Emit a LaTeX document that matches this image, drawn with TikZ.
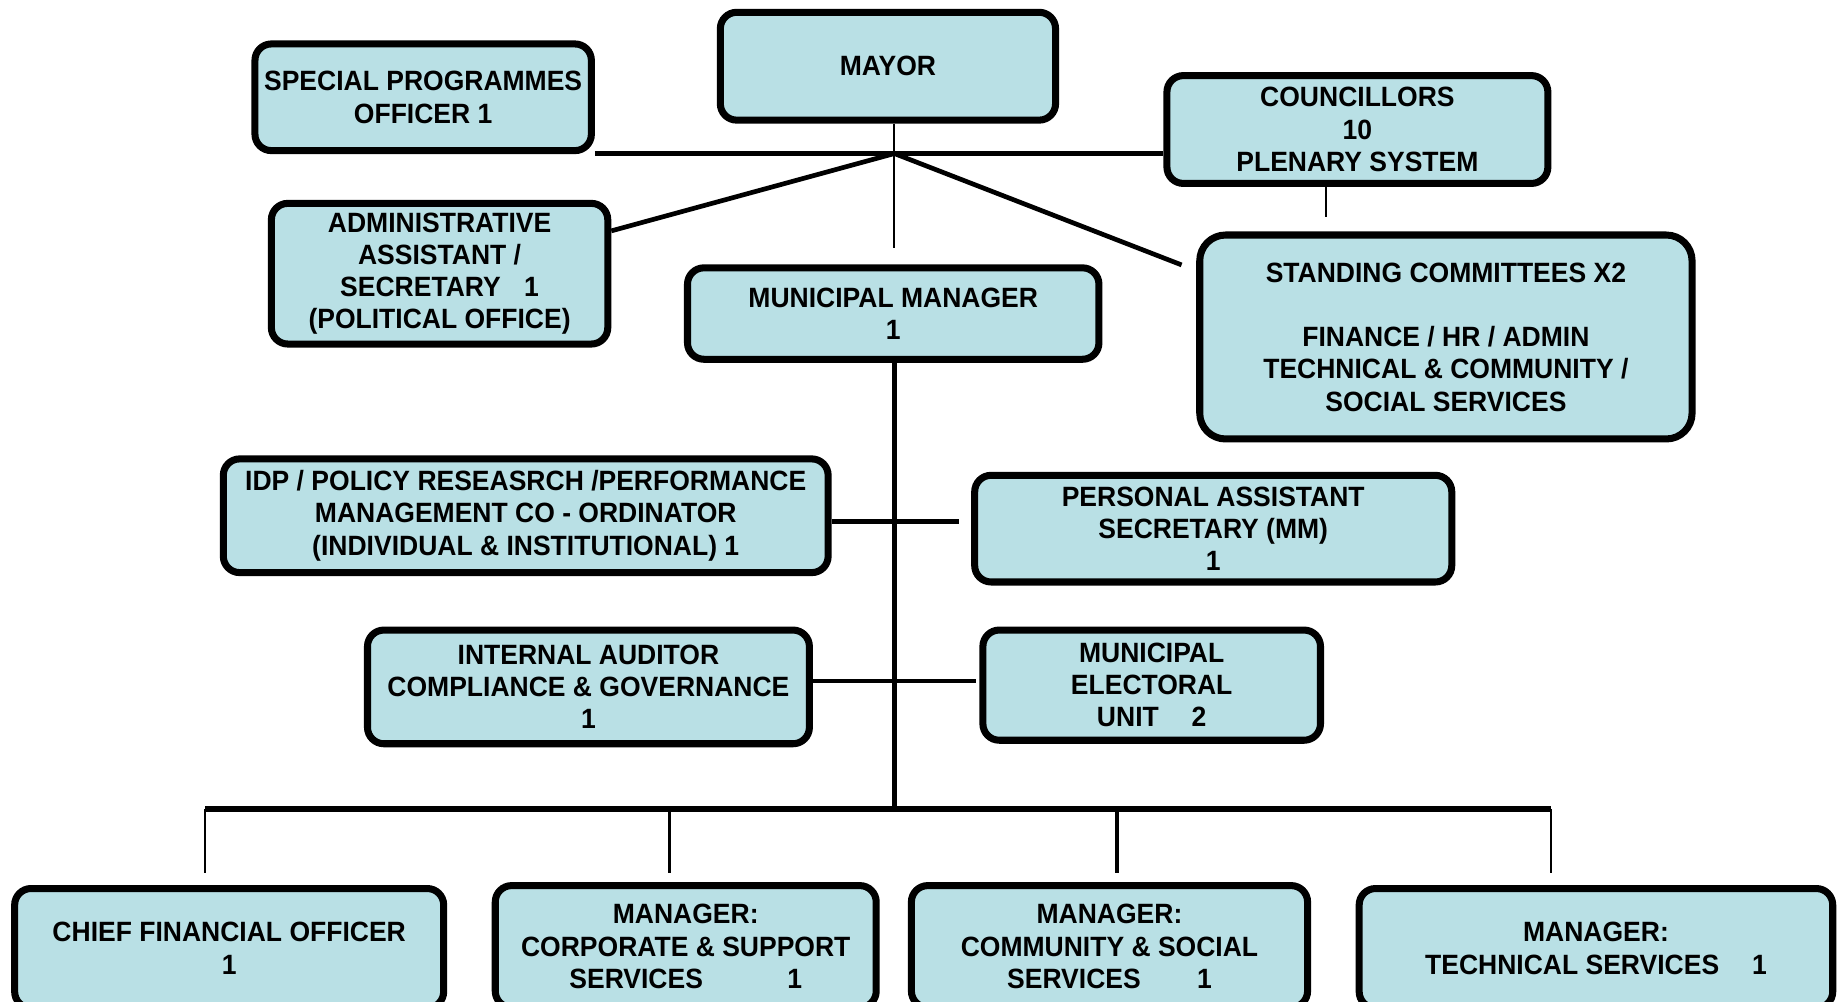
\documentclass[tikz,border=0pt]{standalone}
\usepackage{fontspec}
\setmainfont{Liberation Sans}[FakeStretch=0.95]
\definecolor{boxfill}{RGB}{185,224,229}
\begin{document}
\begin{tikzpicture}[x=0.5pt,y=-0.5pt,
  box/.style={draw=black, line width=3pt, fill=boxfill, rounded corners=7pt,
    align=center, inner sep=0pt, font=\fontsize{11.9}{13.75}\selectfont\bfseries},
  bar/.style={line width=2pt},
  busline/.style={line width=2.6pt},
  tie/.style={line width=0.8pt},
  drop/.style={line width=1.5pt}]
\useasboundingbox (0,0) rectangle (1568,854);
\clip (0,0) rectangle (1568,854);

% top tier
\node[box, minimum width=143.5pt, minimum height=45.5pt] (spo) at (361,83)
  {SPECIAL PROGRAMMES\\OFFICER 1};
\node[box, minimum width=143pt, minimum height=46pt] (mayor) at (757.5,56.5)
  {MAYOR};
\node[box, minimum width=162.5pt, minimum height=46pt] (counc) at (1158,110.5)
  {COUNCILLORS\\10\\PLENARY SYSTEM};
\node[box, minimum width=143.5pt, minimum height=60pt] (admin) at (375,233.5)
  {ADMINISTRATIVE\\ASSISTANT /\\SECRETARY\hspace{10pt}1\\(POLITICAL OFFICE)};
\node[box, minimum width=175.5pt, minimum height=39pt] (mm) at (762,267.5)
  {MUNICIPAL MANAGER\\1};
\node[box, minimum width=210pt, minimum height=87pt, rounded corners=11pt] (stand) at (1233.5,287.5)
  {STANDING COMMITTEES X2\\[13.75pt]FINANCE / HR / ADMIN\\TECHNICAL \& COMMUNITY /\\SOCIAL SERVICES};

% office of the municipal manager
\node[box, minimum width=258pt, minimum height=48.5pt] (idp) at (448.5,440)
  {IDP / POLICY RESEASRCH /PERFORMANCE\\MANAGEMENT CO - ORDINATOR\\(INDIVIDUAL \& INSTITUTIONAL) 1};
\node[box, minimum width=203.5pt, minimum height=45.5pt] (pa) at (1035,451)
  {PERSONAL ASSISTANT\\SECRETARY (MM)\\1};
\node[box, minimum width=188.5pt, minimum height=48.5pt] (ia) at (502,586)
  {INTERNAL AUDITOR\\COMPLIANCE \& GOVERNANCE\\1};
\node[box, minimum width=144pt, minimum height=47pt] (me) at (982.5,584.5)
  {MUNICIPAL\\ELECTORAL\\UNIT\hspace{14pt}2};

% departments
\node[box, minimum width=183pt, minimum height=51pt] (cfo) at (195.5,809)
  {CHIEF FINANCIAL OFFICER\\1};
\node[box, minimum width=162.5pt, minimum height=52pt] (corp) at (585,807.5)
  {MANAGER:\\CORPORATE \& SUPPORT\\SERVICES\hspace{36pt}1};
\node[box, minimum width=169pt, minimum height=52pt] (comm) at (946.5,807.5)
  {MANAGER:\\COMMUNITY \& SOCIAL\\SERVICES\hspace{24pt}1};
\node[box, minimum width=202pt, minimum height=51pt] (tech) at (1361.5,809)
  {MANAGER:\\TECHNICAL SERVICES\hspace{14pt}1};

% junctions and free ends
\coordinate (hub) at (763,131);
\coordinate (mmtop) at (763,212);
\coordinate (standin) at (1008,226);
\coordinate (councend) at (1131,185);
\coordinate (idpend) at (818,445);
\coordinate (iaend) at (833,581);
\coordinate (busL) at (175,690);
\coordinate (busR) at (1323,690);
\coordinate (dcfo) at (175,745);
\coordinate (dcorp) at (571,745);
\coordinate (dcomm) at (953,745);
\coordinate (dtech) at (1323,745);

% mayor's office
\draw[bar] (spo.east |- hub) -- (counc.west |- hub);
\draw[tie] (hub |- mayor.south) -- (mmtop);
\draw[bar] (hub) -- (admin.14);
\draw[bar] (hub) -- (standin);
\draw[tie] (councend |- counc.south) -- (councend);

% municipal manager spine
\draw[bar] (hub |- mm.south) -- (hub |- busL);
\draw[bar] (idp.east |- idpend) -- (idpend);
\draw[bar] (ia.east |- iaend) -- (iaend);

% departmental bus
\draw[busline] (busL) -- (busR);
\draw[tie] (busL) -- (dcfo);
\draw[drop] (dcorp |- busL) -- (dcorp);
\draw[drop] (dcomm |- busL) -- (dcomm);
\draw[tie] (busR) -- (dtech);
\end{tikzpicture}
\end{document}
